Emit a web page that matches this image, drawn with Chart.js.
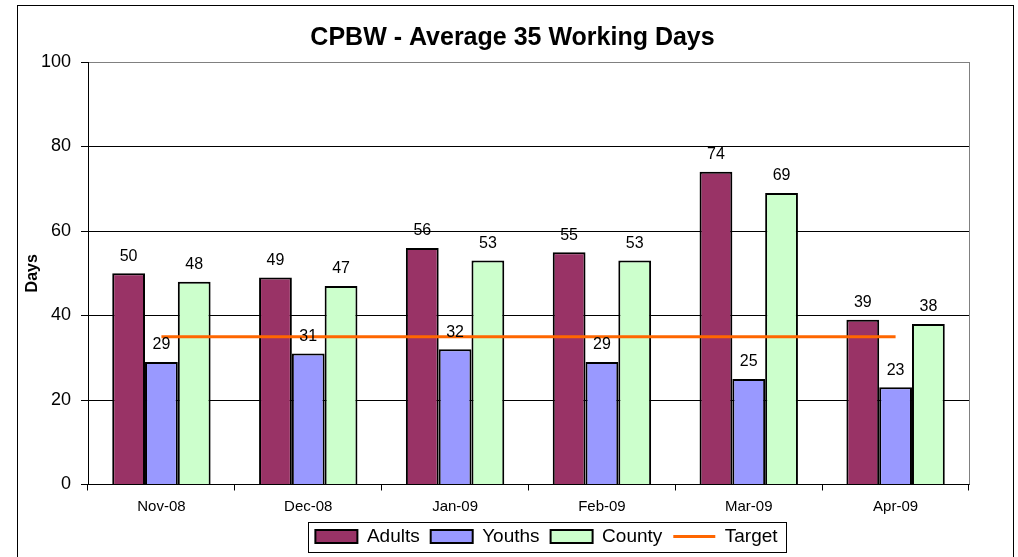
<!DOCTYPE html>
<html>
<head>
<meta charset="utf-8">
<script src="https://cdn.jsdelivr.net/npm/chart.js@4.4.0/dist/chart.umd.min.js"></script>
<style>
  body { margin: 0; background: #fff; }
  #frame { position: absolute; left: 17px; top: 5px; width: 995px; height: 600px; border: 1px solid #000; }
  #wrap { position: absolute; left: 0; top: 0; width: 995px; height: 552px; }
</style>
</head>
<body>
<div id="frame"><div id="wrap"><canvas id="chart"></canvas></div></div>
<script>
// chart values
const months = ['Nov-08', 'Dec-08', 'Jan-09', 'Feb-09', 'Mar-09', 'Apr-09'];
const adults = [50, 49, 56, 55, 74, 39];
const youths = [29, 31, 32, 29, 25, 23];
const county = [48, 47, 53, 53, 69, 38];
const target = [35, 35, 35, 35, 35, 35];

const FONT = 'Arial, "Liberation Sans", sans-serif';

// value labels above the bars
const barLabels = {
    id: 'barLabels',
    afterDatasetsDraw(chart) {
        const ctx = chart.ctx;
        ctx.save();
        ctx.font = '16px ' + FONT;
        ctx.fillStyle = '#000';
        ctx.textAlign = 'center';
        ctx.textBaseline = 'middle';
        chart.data.datasets.forEach((ds, i) => {
            if (ds.type === 'line') return;
            chart.getDatasetMeta(i).data.forEach((bar, j) => {
                ctx.fillText(ds.data[j], bar.x, bar.y - 17);
            });
        });
        ctx.restore();
    }
};

// gray right edge of plot; title and legend moved right and legend boxed like Excel
const TITLE_SHIFT = 19;
const LEGEND_SHIFT = 53;
const frameBits = {
    id: 'frameBits',
    afterLayout(chart) {
        chart.titleBlock.left += TITLE_SHIFT;
        chart.titleBlock.right += TITLE_SHIFT;
        chart.legend.left += LEGEND_SHIFT;
        chart.legend.right += LEGEND_SHIFT;
    },
    afterDraw(chart) {
        const ctx = chart.ctx;
        const a = chart.chartArea;
        ctx.save();
        ctx.strokeStyle = '#808080';
        ctx.lineWidth = 1;
        ctx.beginPath();
        ctx.moveTo(Math.round(a.right) + 0.5, a.top);
        ctx.lineTo(Math.round(a.right) + 0.5, a.bottom);
        ctx.stroke();

        // hit boxes already follow the shifted legend
        const boxes = chart.legend.legendHitBoxes;
        if (boxes && boxes.length) {
            const x0 = Math.min(...boxes.map(b => b.left)) - 7;
            const x1 = Math.max(...boxes.map(b => b.left + b.width)) + 9;
            const cy = boxes[0].top + boxes[0].height / 2;
            ctx.strokeStyle = '#000';
            ctx.strokeRect(Math.round(x0) + 0.5, Math.round(cy - 15) + 0.5, Math.round(x1 - x0), 30);
        }
        ctx.restore();
    }
};

new Chart(document.getElementById('chart'), {
    type: 'bar',
    data: {
        labels: months,
        datasets: [
            { label: 'Adults', data: adults, backgroundColor: '#993366', borderColor: '#000', borderWidth: 2, order: 1 },
            { label: 'Youths', data: youths, backgroundColor: '#9999FF', borderColor: '#000', borderWidth: 2, order: 1 },
            { label: 'County', data: county, backgroundColor: '#CCFFCC', borderColor: '#000', borderWidth: 2, order: 1 },
            { type: 'line', label: 'Target', data: target, borderColor: '#FF6600', backgroundColor: '#FF6600',
              borderWidth: 3, pointRadius: 0, fill: false, order: 0 }
        ]
    },
    options: {
        responsive: true,
        maintainAspectRatio: false,
        animation: false,
        datasets: { bar: { barPercentage: 1, categoryPercentage: 0.67 } },
        layout: { padding: { left: 0, right: 44, top: 0, bottom: 2 } },
        scales: {
            x: {
                grid: { offset: true, drawOnChartArea: false, drawTicks: true, tickLength: 6, color: '#000' },
                border: { display: true, color: '#000', width: 1 },
                ticks: { color: '#000', font: { family: FONT, size: 15 }, padding: 7 },
                afterFit(scale) { scale.height = 31.5; }
            },
            y: {
                min: 0,
                max: 100,
                ticks: { stepSize: 20, color: '#000', font: { family: FONT, size: 18 }, padding: 10 },
                grid: {
                    color: c => (c.tick && c.tick.value === 100) ? '#808080' : '#000',
                    tickColor: '#000',
                    tickLength: 7,
                    lineWidth: 1
                },
                border: { display: true, color: '#000', width: 1 },
                title: { display: true, text: 'Days', color: '#000', font: { family: FONT, size: 16, weight: 'bold' }, padding: 5 },
                afterFit(scale) { scale.width = 70; }
            }
        },
        plugins: {
            title: {
                display: true,
                text: 'CPBW - Average 35 Working Days',
                color: '#000',
                font: { family: FONT, size: 25, weight: 'bold' },
                padding: { top: 17, bottom: 9 }
            },
            legend: {
                position: 'bottom',
                labels: {
                    color: '#000',
                    font: { family: FONT, size: 19 },
                    usePointStyle: true,
                    pointStyleWidth: 42,
                    boxHeight: 13,
                    padding: 11,
                    sort: (a, b) => a.datasetIndex - b.datasetIndex,
                    generateLabels(chart) {
                        const items = Chart.defaults.plugins.legend.labels.generateLabels(chart);
                        items.forEach(it => {
                            const ds = chart.data.datasets[it.datasetIndex];
                            if (ds.type === 'line') {
                                it.pointStyle = 'line';
                                it.strokeStyle = '#FF6600';
                                it.lineWidth = 3;
                            } else {
                                it.pointStyle = 'rect';
                                it.strokeStyle = '#000';
                                it.lineWidth = 2;
                            }
                        });
                        return items;
                    }
                }
            },
            tooltip: { enabled: false }
        }
    },
    plugins: [barLabels, frameBits]
});
</script>
</body>
</html>
